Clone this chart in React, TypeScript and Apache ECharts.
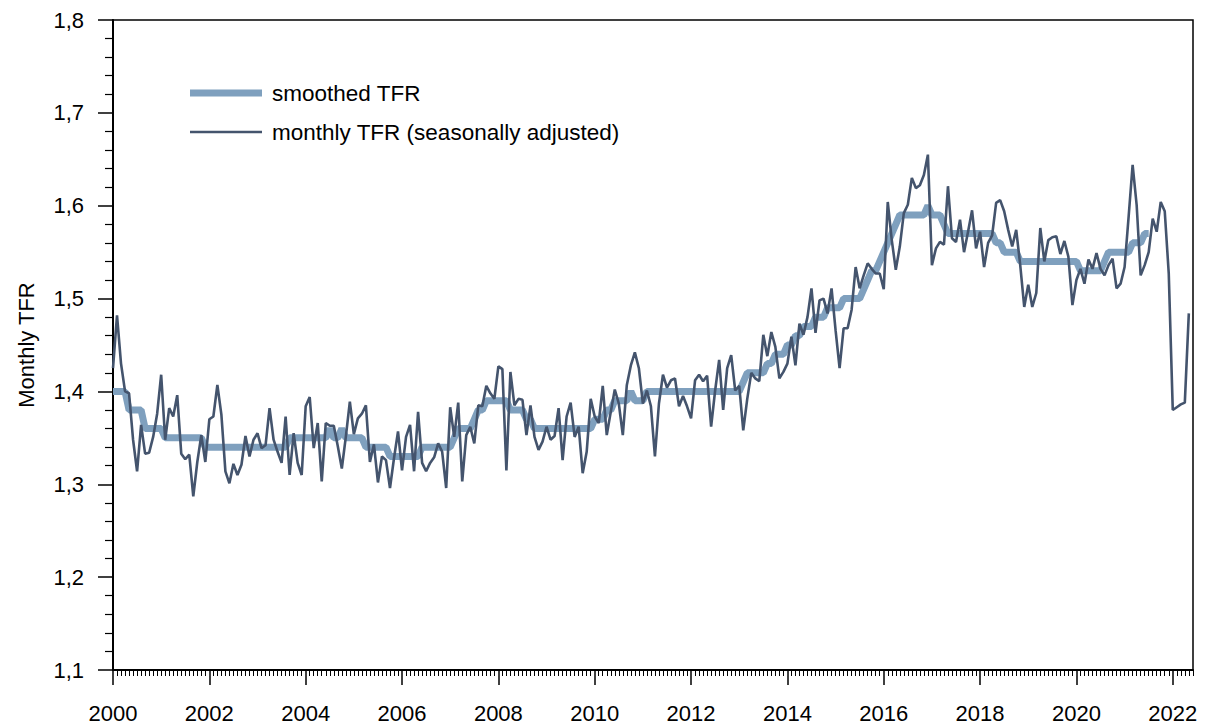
import React, { useEffect, useRef } from 'react';
import * as echarts from 'echarts';

const START_YEAR = 2000;

// monthly TFR (seasonally adjusted), Jan 2000 .. May 2022
const monthlyTFR: number[] = [
  // 2000
  1.425, 1.482, 1.430, 1.400, 1.398, 1.348, 1.314, 1.364, 1.333, 1.334, 1.351, 1.376,
  // 2001
  1.418, 1.348, 1.382, 1.373, 1.396, 1.333, 1.327, 1.332, 1.287, 1.324, 1.353, 1.324,
  // 2002
  1.370, 1.373, 1.407, 1.375, 1.314, 1.301, 1.322, 1.310, 1.321, 1.352, 1.330, 1.348,
  // 2003
  1.355, 1.339, 1.342, 1.382, 1.348, 1.335, 1.323, 1.373, 1.310, 1.355, 1.323, 1.310,
  // 2004
  1.384, 1.394, 1.339, 1.366, 1.303, 1.366, 1.363, 1.363, 1.341, 1.317, 1.351, 1.389,
  // 2005
  1.354, 1.371, 1.376, 1.385, 1.324, 1.343, 1.302, 1.330, 1.326, 1.296, 1.328, 1.357,
  // 2006
  1.315, 1.351, 1.364, 1.314, 1.378, 1.323, 1.314, 1.323, 1.329, 1.344, 1.335, 1.296,
  // 2007
  1.383, 1.351, 1.388, 1.303, 1.353, 1.362, 1.344, 1.385, 1.384, 1.406, 1.398, 1.392,
  // 2008
  1.427, 1.424, 1.315, 1.421, 1.385, 1.392, 1.391, 1.353, 1.385, 1.351, 1.337, 1.346,
  // 2009
  1.362, 1.348, 1.352, 1.382, 1.326, 1.373, 1.388, 1.351, 1.362, 1.312, 1.335, 1.392,
  // 2010
  1.373, 1.366, 1.406, 1.353, 1.378, 1.402, 1.387, 1.353, 1.407, 1.428, 1.442, 1.425,
  // 2011
  1.387, 1.401, 1.384, 1.330, 1.387, 1.418, 1.404, 1.412, 1.414, 1.384, 1.395, 1.384,
  // 2012
  1.371, 1.412, 1.418, 1.411, 1.417, 1.362, 1.401, 1.434, 1.380, 1.425, 1.439, 1.401,
  // 2013
  1.406, 1.358, 1.392, 1.420, 1.414, 1.411, 1.461, 1.438, 1.464, 1.448, 1.414, 1.421,
  // 2014
  1.430, 1.459, 1.428, 1.473, 1.461, 1.480, 1.511, 1.463, 1.498, 1.500, 1.484, 1.511,
  // 2015
  1.466, 1.425, 1.468, 1.468, 1.488, 1.534, 1.511, 1.525, 1.538, 1.532, 1.527, 1.527,
  // 2016
  1.510, 1.604, 1.563, 1.531, 1.556, 1.592, 1.601, 1.630, 1.619, 1.622, 1.633, 1.655,
  // 2017
  1.536, 1.554, 1.561, 1.558, 1.621, 1.565, 1.561, 1.585, 1.550, 1.572, 1.595, 1.554,
  // 2018
  1.572, 1.534, 1.560, 1.568, 1.603, 1.606, 1.594, 1.574, 1.556, 1.574, 1.536, 1.491,
  // 2019
  1.515, 1.491, 1.506, 1.576, 1.540, 1.563, 1.566, 1.567, 1.548, 1.562, 1.545, 1.493,
  // 2020
  1.520, 1.532, 1.516, 1.542, 1.532, 1.549, 1.532, 1.525, 1.536, 1.543, 1.511, 1.516,
  // 2021
  1.534, 1.588, 1.644, 1.601, 1.525, 1.536, 1.550, 1.586, 1.572, 1.604, 1.594, 1.527,
  // 2022
  1.380, 1.383, 1.386, 1.388, 1.484,
];

// smoothed TFR, Jan 2000 .. Jul 2021
const smoothedTFR: number[] = [
  // 2000
  1.40, 1.40, 1.40, 1.40, 1.38, 1.38, 1.38, 1.38, 1.36, 1.36, 1.36, 1.36,
  // 2001
  1.36, 1.35, 1.35, 1.35, 1.35, 1.35, 1.35, 1.35, 1.35, 1.35, 1.35, 1.34,
  // 2002
  1.34, 1.34, 1.34, 1.34, 1.34, 1.34, 1.34, 1.34, 1.34, 1.34, 1.34, 1.34,
  // 2003
  1.34, 1.34, 1.34, 1.34, 1.34, 1.34, 1.34, 1.34, 1.35, 1.35, 1.35, 1.35,
  // 2004
  1.35, 1.35, 1.35, 1.35, 1.35, 1.35, 1.36, 1.35, 1.35, 1.36, 1.35, 1.35,
  // 2005
  1.35, 1.35, 1.35, 1.34, 1.34, 1.34, 1.34, 1.34, 1.34, 1.33, 1.33, 1.33,
  // 2006
  1.33, 1.33, 1.33, 1.33, 1.33, 1.34, 1.34, 1.34, 1.34, 1.34, 1.34, 1.34,
  // 2007
  1.34, 1.35, 1.36, 1.36, 1.36, 1.36, 1.37, 1.38, 1.38, 1.39, 1.39, 1.39,
  // 2008
  1.39, 1.39, 1.39, 1.38, 1.38, 1.38, 1.38, 1.37, 1.37, 1.36, 1.36, 1.36,
  // 2009
  1.36, 1.36, 1.36, 1.36, 1.36, 1.36, 1.36, 1.36, 1.36, 1.36, 1.36, 1.36,
  // 2010
  1.37, 1.37, 1.37, 1.38, 1.38, 1.39, 1.39, 1.39, 1.39, 1.40, 1.39, 1.39,
  // 2011
  1.39, 1.40, 1.40, 1.40, 1.40, 1.40, 1.40, 1.40, 1.40, 1.40, 1.40, 1.40,
  // 2012
  1.40, 1.40, 1.40, 1.40, 1.40, 1.40, 1.40, 1.40, 1.40, 1.40, 1.40, 1.40,
  // 2013
  1.40, 1.41, 1.42, 1.42, 1.42, 1.42, 1.42, 1.43, 1.43, 1.44, 1.44, 1.44,
  // 2014
  1.45, 1.45, 1.46, 1.46, 1.47, 1.47, 1.47, 1.48, 1.48, 1.48, 1.49, 1.49,
  // 2015
  1.49, 1.49, 1.50, 1.50, 1.50, 1.50, 1.50, 1.51, 1.52, 1.53, 1.53, 1.54,
  // 2016
  1.55, 1.56, 1.57, 1.58, 1.59, 1.59, 1.59, 1.59, 1.59, 1.59, 1.59, 1.60,
  // 2017
  1.59, 1.59, 1.59, 1.58, 1.57, 1.57, 1.57, 1.57, 1.57, 1.57, 1.57, 1.57,
  // 2018
  1.57, 1.57, 1.57, 1.57, 1.56, 1.56, 1.55, 1.55, 1.55, 1.55, 1.54, 1.54,
  // 2019
  1.54, 1.54, 1.54, 1.54, 1.54, 1.54, 1.54, 1.54, 1.54, 1.54, 1.54, 1.54,
  // 2020
  1.54, 1.53, 1.53, 1.53, 1.53, 1.53, 1.53, 1.54, 1.55, 1.55, 1.55, 1.55,
  // 2021
  1.55, 1.55, 1.56, 1.56, 1.56, 1.57, 1.57,
];

const xTickYears: number[] = [2000, 2002, 2004, 2006, 2008, 2010, 2012, 2014, 2016, 2018, 2020, 2022];
const legendLabels: string[] = ['smoothed TFR', 'monthly TFR (seasonally adjusted)'];
const yAxisTitle = 'Monthly TFR';

const FONT = "'Liberation Sans', Arial, Helvetica, sans-serif";
const SMOOTH_COLOR = '#7fa0be';
const MONTHLY_COLOR = '#44546d';

export default function App() {
  const ref = useRef<HTMLDivElement>(null);

  useEffect(() => {
    if (!ref.current) return;
    const chart = echarts.init(ref.current, null, { renderer: 'svg' });
    const toPoints = (arr: number[]) => arr.map((v, i) => [START_YEAR + i / 12, v]);

    chart.setOption({
      animation: false,
      backgroundColor: '#ffffff',
      textStyle: { fontFamily: FONT },
      grid: {
        left: 113,
        top: 20,
        width: 1080,
        height: 650,
        containLabel: false,
        outerBoundsMode: 'none',
        show: true,
        borderColor: '#000',
        borderWidth: 1.5,
        backgroundColor: 'transparent',
      },
      xAxis: {
        type: 'value',
        min: 2000,
        max: 2022.42,
        interval: 2,
        axisLine: { show: true, lineStyle: { color: '#000', width: 2 } },
        axisTick: {
          show: true,
          customValues: xTickYears,
          length: 15,
          lineStyle: { color: '#000', width: 1.5 },
        },
        minorTick: {
          show: true,
          splitNumber: 24,
          length: 6,
          lineStyle: { color: '#000', width: 1 },
        },
        axisLabel: {
          customValues: xTickYears,
          formatter: (v: number) => String(Math.round(v)),
          fontSize: 22,
          color: '#000',
          margin: 32,
          fontFamily: FONT,
        },
        splitLine: { show: false },
        minorSplitLine: { show: false },
      },
      yAxis: {
        type: 'value',
        min: 1.1,
        max: 1.8,
        interval: 0.1,
        name: yAxisTitle,
        nameLocation: 'middle',
        nameGap: 76,
        nameRotate: 90,
        nameTextStyle: { fontSize: 22, color: '#000', fontFamily: FONT },
        axisLine: { show: true, lineStyle: { color: '#000', width: 2 } },
        axisTick: { show: true, length: 15, lineStyle: { color: '#000', width: 1.5 } },
        minorTick: { show: true, splitNumber: 5, length: 8, lineStyle: { color: '#000', width: 1.2 } },
        axisLabel: {
          formatter: (v: number) => v.toFixed(1).replace('.', ','),
          fontSize: 22,
          color: '#000',
          margin: 29,
          fontFamily: FONT,
        },
        splitLine: { show: false },
        minorSplitLine: { show: false },
      },
      series: [
        {
          name: legendLabels[0],
          type: 'line',
          data: toPoints(smoothedTFR),
          showSymbol: false,
          symbol: 'none',
          lineStyle: { color: SMOOTH_COLOR, width: 7 },
          itemStyle: { color: SMOOTH_COLOR },
          z: 2,
        },
        {
          name: legendLabels[1],
          type: 'line',
          data: toPoints(monthlyTFR),
          showSymbol: false,
          symbol: 'none',
          lineStyle: { color: MONTHLY_COLOR, width: 2.6 },
          itemStyle: { color: MONTHLY_COLOR },
          z: 3,
        },
      ],
      graphic: [
        {
          type: 'line',
          shape: { x1: 190, y1: 93, x2: 262, y2: 93 },
          style: { stroke: SMOOTH_COLOR, lineWidth: 7 },
        },
        {
          type: 'text',
          x: 272,
          y: 93,
          style: { text: legendLabels[0], fontSize: 22.5, fill: '#000', fontFamily: FONT, verticalAlign: 'middle' },
        },
        {
          type: 'line',
          shape: { x1: 190, y1: 132, x2: 262, y2: 132 },
          style: { stroke: MONTHLY_COLOR, lineWidth: 2.6 },
        },
        {
          type: 'text',
          x: 272,
          y: 132,
          style: { text: legendLabels[1], fontSize: 22.5, fill: '#000', fontFamily: FONT, verticalAlign: 'middle' },
        },
      ],
    });

    return () => chart.dispose();
  }, []);

  return (
    <div
      ref={ref}
      style={{ position: 'fixed', left: 0, top: 0, width: 1210, height: 726 }}
    />
  );
}
